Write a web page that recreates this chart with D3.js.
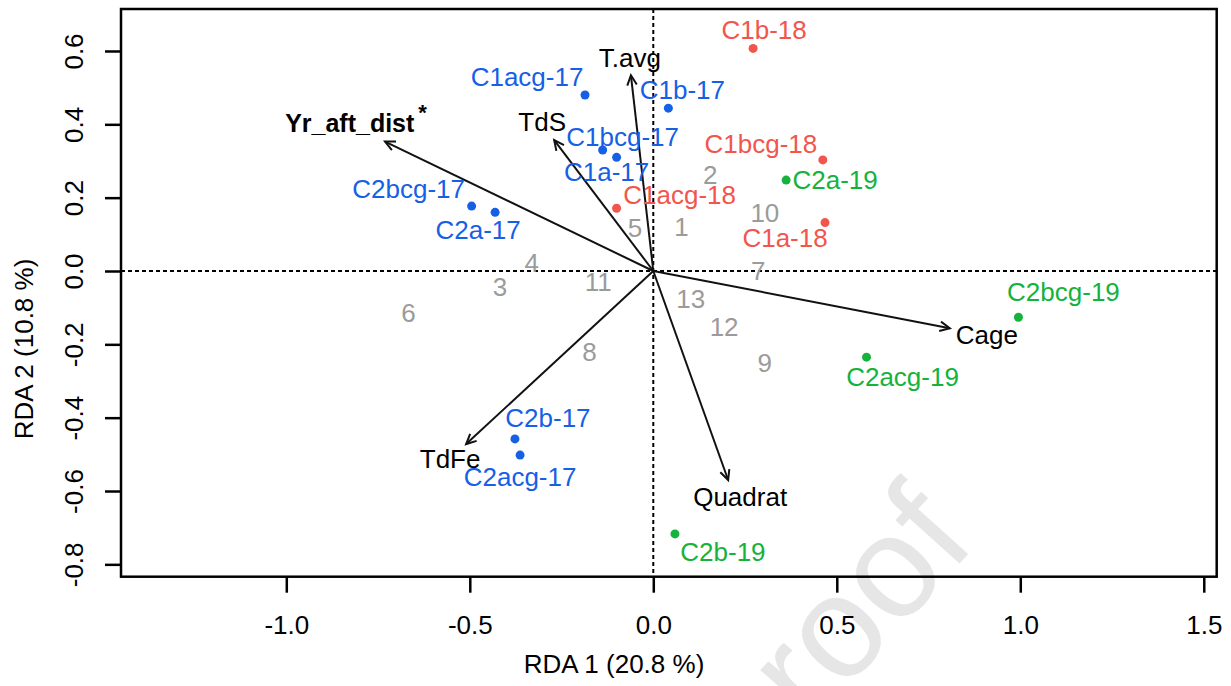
<!DOCTYPE html>
<html>
<head>
<meta charset="utf-8">
<script src="https://cdn.jsdelivr.net/npm/d3@7"></script>
<style>
  body { margin: 0; background: #fff; }
  svg { display: block; font-family: Arial, "Liberation Sans", sans-serif; }
</style>
</head>
<body>
<script>
// site scores (RDA1, RDA2)
const siteNames = ['C1acg-17', 'C1b-17', 'C1bcg-17', 'C1a-17', 'C2bcg-17', 'C2a-17', 'C2b-17', 'C2acg-17',
  'C1b-18', 'C1bcg-18', 'C1acg-18', 'C1a-18',
  'C2a-19', 'C2bcg-19', 'C2acg-19', 'C2b-19'];
const siteYear = ['17', '17', '17', '17', '17', '17', '17', '17', '18', '18', '18', '18', '19', '19', '19', '19'];
const siteX = [-0.186, 0.041, -0.138, -0.100, -0.495, -0.431, -0.377, -0.363,
  0.272, 0.462, -0.100, 0.468,
  0.362, 0.995, 0.581, 0.059];
const siteY = [0.480, 0.444, 0.330, 0.310, 0.177, 0.160, -0.458, -0.502,
  0.607, 0.303, 0.171, 0.132,
  0.248, -0.126, -0.235, -0.717];

// species scores (numbered)
const spLabels = ['1', '2', '3', '4', '5', '6', '7', '8', '9', '10', '11', '12', '13'];
const spX = [0.077, 0.155, -0.418, -0.331, -0.050, -0.667, 0.286, -0.174, 0.304, 0.304, -0.150, 0.193, 0.102];
const spY = [0.121, 0.262, -0.043, 0.021, 0.116, -0.115, 0.000, -0.220, -0.250, 0.157, -0.029, -0.152, -0.077];

// environmental vectors
const envNames = ['Yr_aft_dist', 'T.avg', 'TdS', 'TdFe', 'Quadrat', 'Cage'];
const envX = [-0.731, -0.061, -0.270, -0.510, 0.204, 0.808];
const envY = [0.353, 0.534, 0.357, -0.472, -0.570, -0.156];

const xTicks = [-1.0, -0.5, 0.0, 0.5, 1.0, 1.5];
const yTicks = [-0.8, -0.6, -0.4, -0.2, 0.0, 0.2, 0.4, 0.6];
const xTitle = 'RDA 1 (20.8 %)';
const yTitle = 'RDA 2 (10.8 %)';

// label nudges in px (layout only)
const siteNudge = [[-58, -18], [14, -18], [20, -13], [-10, 15], [-63, -17], [-17, 18], [33, -21], [0, 22],
  [11, -18], [-62, -16], [63, -13], [-40, 15],
  [49, 0], [45, -25], [36, 20], [48, 18]];
const envNudge = [[-29, -19], [-1, -17], [-12, -18], [-16, 15], [12, 17], [37, 7]];

const yearColor = { '17': '#1660e6', '18': '#f2554c', '19': '#15b23c' };

const W = 1231, H = 686;
const margin = { top: 9, right: 14.3, bottom: 109.3, left: 121 };
const width = W - margin.left - margin.right;
const height = H - margin.top - margin.bottom;

const svg = d3.select('body').append('svg')
  .attr('width', W)
  .attr('height', H);

// watermark
svg.append('text')
  .attr('transform', 'translate(978,543) rotate(-48)')
  .attr('text-anchor', 'end')
  .style('font-size', '145px')
  .attr('fill', '#e6e6e6')
  .text('Journal Pre-proof');

const g = svg.append('g')
  .attr('transform', `translate(${margin.left},${margin.top})`);

const x = d3.scaleLinear().domain([-1.4504, 1.5352]).range([0, width]);
const y = d3.scaleLinear().domain([-0.8337, 0.7145]).range([height, 0]);

// zero lines
g.append('line')
  .attr('x1', 0).attr('x2', width)
  .attr('y1', y(0)).attr('y2', y(0))
  .attr('stroke', '#000').attr('stroke-width', 2)
  .attr('stroke-dasharray', '4,3');
g.append('line')
  .attr('x1', x(0)).attr('x2', x(0))
  .attr('y1', 0).attr('y2', height)
  .attr('stroke', '#000').attr('stroke-width', 2)
  .attr('stroke-dasharray', '4,3');

// axes
const fmt = d => d.toFixed(1);
const xAxis = g.append('g')
  .attr('transform', `translate(0,${height})`)
  .call(d3.axisBottom(x).tickValues(xTicks).tickFormat(fmt).tickSize(16).tickPadding(23));
const yAxis = g.append('g')
  .call(d3.axisLeft(y).tickValues(yTicks).tickFormat(fmt).tickSize(16));

[xAxis, yAxis].forEach(a => {
  a.select('.domain').remove();
  a.selectAll('line').attr('stroke', '#000').attr('stroke-width', 2.5);
  a.selectAll('text')
    .attr('fill', '#000')
    .style('font-size', '26px')
    .style('font-family', 'Arial, "Liberation Sans", sans-serif');
});

yAxis.selectAll('text')
  .attr('x', 0)
  .attr('dy', 0)
  .attr('text-anchor', 'middle')
  .attr('transform', 'translate(-38,0) rotate(-90)');

// box
g.append('rect')
  .attr('width', width).attr('height', height)
  .attr('fill', 'none')
  .attr('stroke', '#000')
  .attr('stroke-width', 2.5);

// axis titles
svg.append('text')
  .attr('x', 614)
  .attr('y', 673)
  .attr('text-anchor', 'middle')
  .style('font-size', '26px')
  .text(xTitle);

svg.append('text')
  .attr('transform', 'translate(33,349) rotate(-90)')
  .attr('text-anchor', 'middle')
  .style('font-size', '26px')
  .text(yTitle);

// species numbers
g.selectAll('.sp')
  .data(spLabels)
  .enter()
  .append('text')
  .attr('class', 'sp')
  .attr('x', (d, i) => x(spX[i]))
  .attr('y', (d, i) => y(spY[i]) + 9)
  .attr('text-anchor', 'middle')
  .attr('fill', '#9b9b9b')
  .style('font-size', '26px')
  .text(d => d);

// env arrows
const arrowLen = 11, arrowAng = Math.PI / 7;
envNames.forEach((name, i) => {
  const x0 = x(0), y0 = y(0), x1 = x(envX[i]), y1 = y(envY[i]);
  const a = Math.atan2(y1 - y0, x1 - x0);
  g.append('line')
    .attr('x1', x0).attr('y1', y0)
    .attr('x2', x1).attr('y2', y1)
    .attr('stroke', '#111').attr('stroke-width', 2);
  const head = d3.path();
  head.moveTo(x1 - arrowLen * Math.cos(a - arrowAng), y1 - arrowLen * Math.sin(a - arrowAng));
  head.lineTo(x1, y1);
  head.lineTo(x1 - arrowLen * Math.cos(a + arrowAng), y1 - arrowLen * Math.sin(a + arrowAng));
  g.append('path')
    .attr('d', head.toString())
    .attr('fill', 'none')
    .attr('stroke', '#111').attr('stroke-width', 2);

  const t = g.append('text')
    .attr('x', x1 + envNudge[i][0])
    .attr('y', y1 + envNudge[i][1] + 9)
    .attr('text-anchor', 'middle')
    .attr('fill', '#000')
    .style('font-size', i === 0 ? '25px' : '26px')
    .style('font-weight', i === 0 ? 'bold' : 'normal')
    .text(name);
  if (i === 0) {
    t.append('tspan')
      .attr('dx', 4)
      .attr('dy', -12)
      .style('font-size', '22px')
      .text('*');
  }
});

// site points
g.selectAll('.site')
  .data(siteNames)
  .enter()
  .append('circle')
  .attr('class', 'site')
  .attr('cx', (d, i) => x(siteX[i]))
  .attr('cy', (d, i) => y(siteY[i]))
  .attr('r', 4.5)
  .attr('fill', (d, i) => yearColor[siteYear[i]]);

g.selectAll('.site-label')
  .data(siteNames)
  .enter()
  .append('text')
  .attr('class', 'site-label')
  .attr('x', (d, i) => x(siteX[i]) + siteNudge[i][0])
  .attr('y', (d, i) => y(siteY[i]) + siteNudge[i][1] + 9)
  .attr('text-anchor', 'middle')
  .attr('fill', (d, i) => yearColor[siteYear[i]])
  .style('font-size', '26px')
  .text(d => d);
</script>
</body>
</html>
